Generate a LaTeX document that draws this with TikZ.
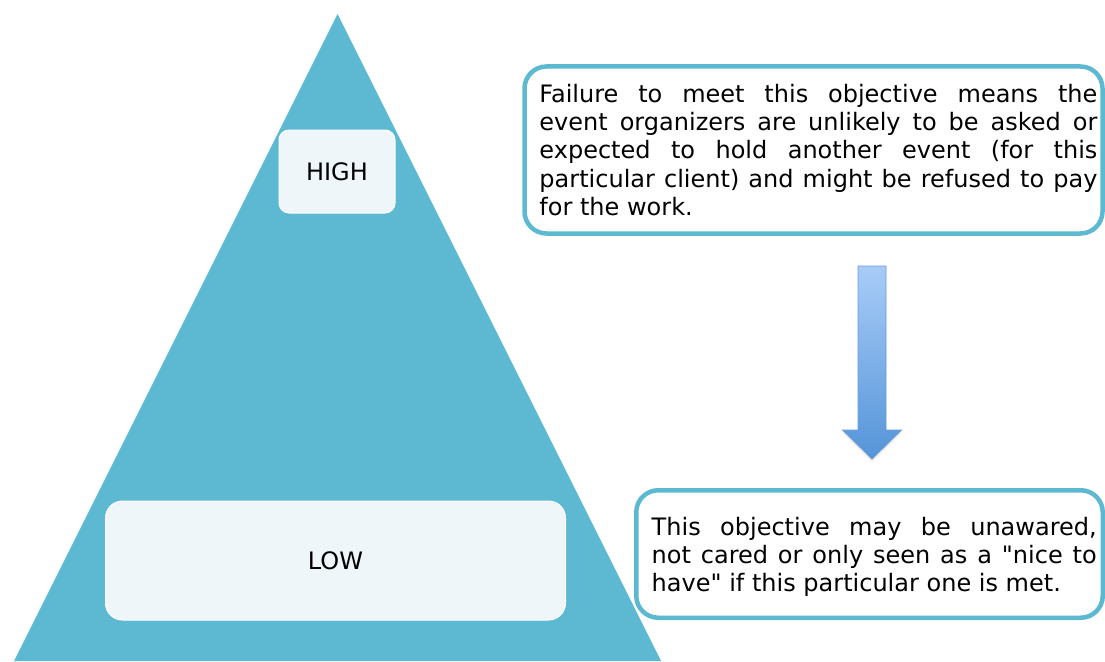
\documentclass[tikz,border=0pt]{standalone}
\usepackage{fontspec}
\setmainfont{DejaVu Sans}[Ligatures=TeXOff]
\usepackage{tikz}
\usetikzlibrary{shapes.geometric, positioning, calc, shadows}

\definecolor{pyramidblue}{HTML}{5DB9D2}
\definecolor{levelfill}{HTML}{EEF6FA}
\definecolor{arrowtop}{HTML}{A8CCF8}
\definecolor{arrowbottom}{HTML}{5494D8}
\definecolor{arrowline}{HTML}{6C9BD2}

\begin{document}
\begin{tikzpicture}[x=1pt, y=-1pt,
        level/.style={draw=white, line width=1pt, fill=levelfill, inner sep=0pt,
                      font=\fontsize{24}{28}\selectfont},
        notebox/.style={draw=pyramidblue, line width=4.5pt, fill=white,
                        rounded corners=22pt, inner sep=0pt},
        notetext/.style={inner sep=0pt, text width=#1, align=justify, anchor=west,
                         font=\fontsize{24}{28.3}\selectfont}]
    \useasboundingbox (0,0) rectangle (1105,661);

    % pyramid
    \fill[pyramidblue] (337.5,14) -- (661,661) -- (14,661) -- cycle;
    \node (high) [level, rounded corners=10pt,
                  minimum width=116pt, minimum height=83pt] at (337,171.5) {HIGH};
    \node (low) [level, rounded corners=17pt,
                 minimum width=460pt, minimum height=119pt] at (335.5,560.5) {LOW};

    % notes
    \node (failbox) [notebox, minimum width=578pt, minimum height=167pt] at (813.5,150) {};
    \node (failtext) [notetext=558pt] at ([xshift=17pt]failbox.west)
        {Failure to meet this objective means the\linebreak
         event organizers are unlikely to be asked or\linebreak
         expected to hold another event (for this\linebreak
         particular client) and might be refused to pay\linebreak
         for the work.};

    \node (metbox) [notebox, minimum width=466.5pt, minimum height=127.5pt] at (869.5,554) {};
    \node (mettext) [notetext=445pt] at ([xshift=17.5pt, yshift=-3pt]metbox.west)
        {This objective may be unawared,\linebreak
         not cared or only seen as a "nice to\linebreak
         have" if this particular one is met.};

    % block arrow
    \shade[top color=arrowtop, bottom color=arrowbottom, draw=arrowline, line width=0.8pt,
           drop shadow={opacity=0.15, shadow xshift=0pt, shadow yshift=-3pt}]
        (858,266) -- (886,266) -- (886,430) -- (901.5,430) -- (872,459)
        -- (842.5,430) -- (858,430) -- cycle;
\end{tikzpicture}
\end{document}
